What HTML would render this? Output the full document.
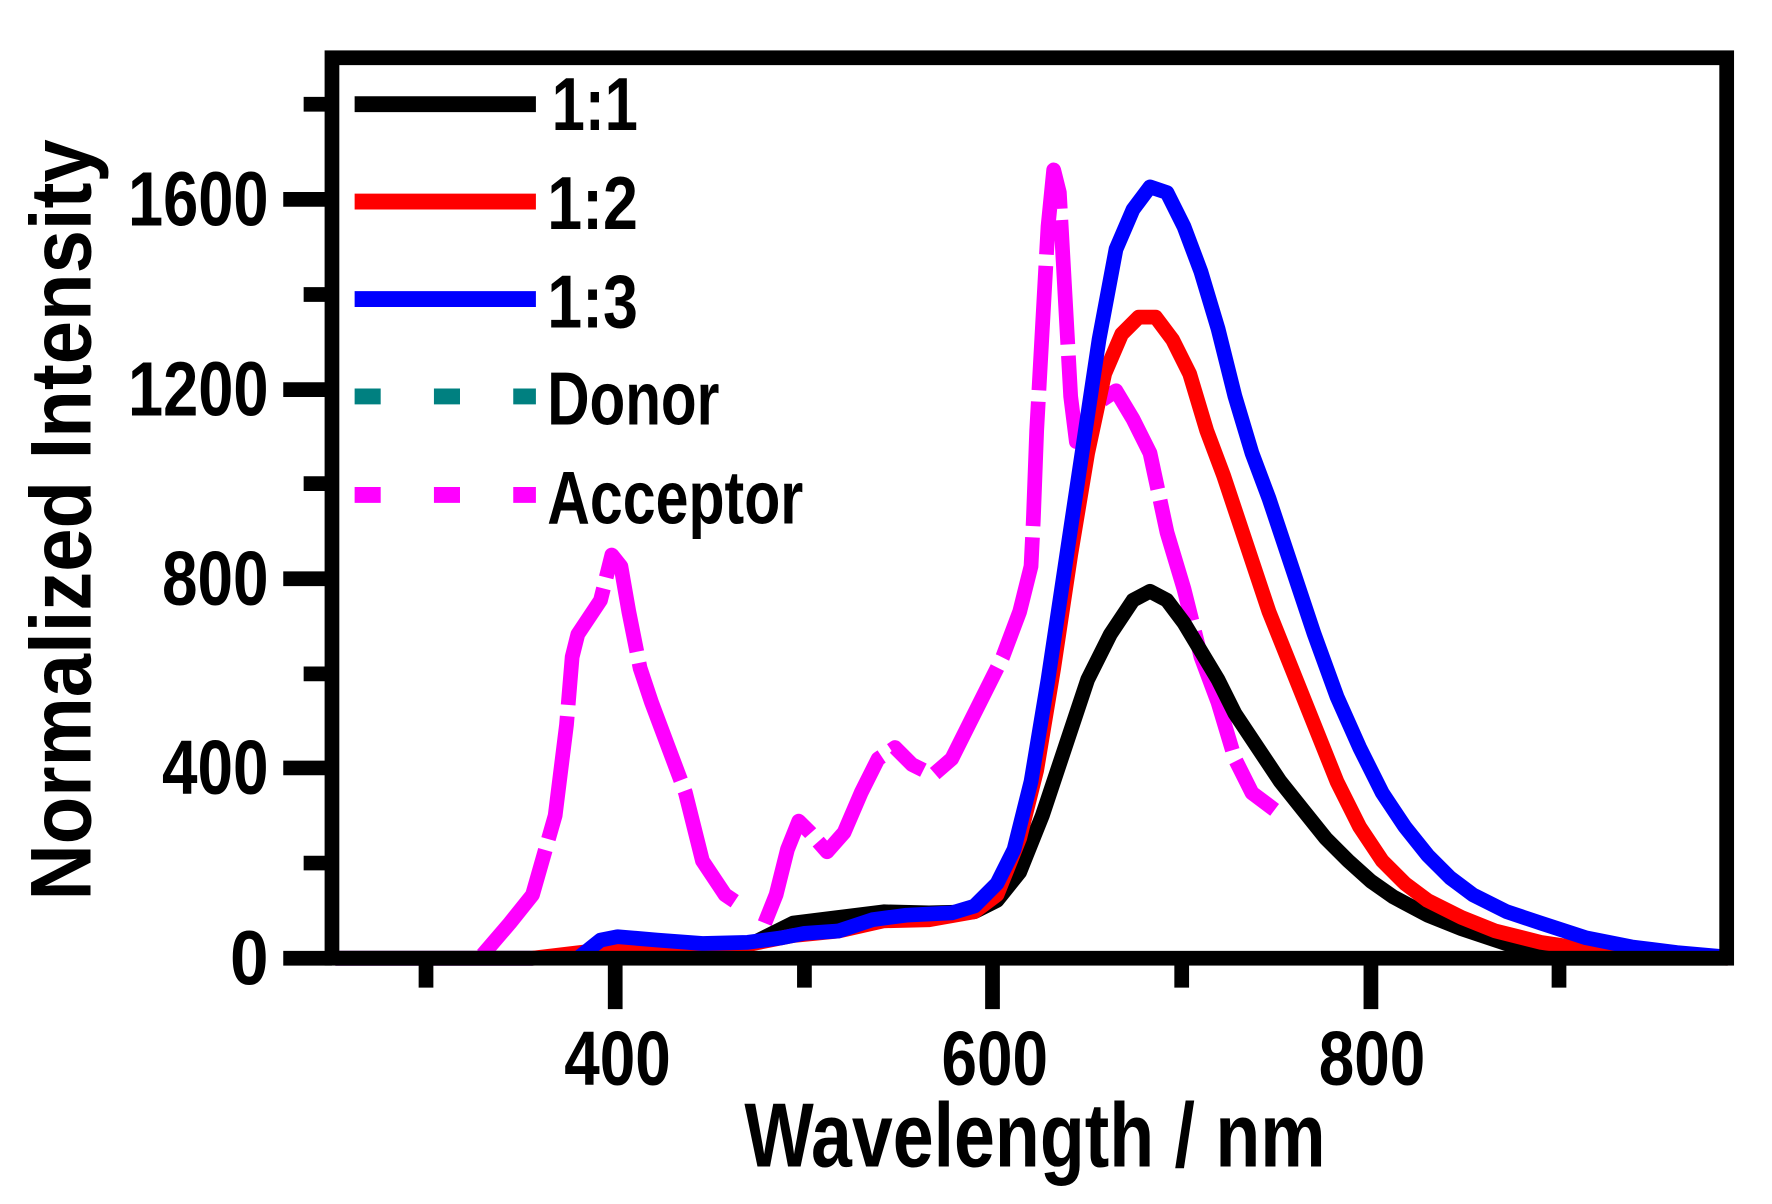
<!DOCTYPE html>
<html><head><meta charset="utf-8"><style>html,body{margin:0;padding:0;background:#fff}svg{display:block}</style></head>
<body>
<svg width="1772" height="1204" viewBox="0 0 1564 1063" preserveAspectRatio="none" xmlns="http://www.w3.org/2000/svg" font-family="Liberation Sans, Arial, sans-serif" font-weight="bold">
<rect width="1564" height="1063" fill="#fff"/>
<g fill="none" stroke-linejoin="round" stroke-linecap="butt" stroke-width="13">
<polyline stroke="#ff00ff" stroke-dasharray="110 10" points="426,843 450,815 470,790 490,720 500,640 505,580 510,560 530,530 540,490 548,500 555,540 565,590 575,620 590,660 605,700 620,760 640,790 655,800"/>
<polyline stroke="#ff00ff" stroke-dasharray="110 10" points="675,815 685,790 695,750 705,725 715,735 730,752 745,735 760,700 775,670 790,660 805,675 815,680"/>
<polyline stroke="#ff00ff" stroke-dasharray="110 10" points="825,683 840,670 855,640 870,610 885,580 900,540 910,500 912,460 915,380 920,290 925,200 930,150 935,170 940,260 945,350 950,390 960,375 970,355 985,345 1000,370 1015,400 1030,470 1045,520 1060,580 1075,620 1090,670 1105,700 1125,715"/>
<polyline stroke="#000" points="296,846 470,846 520,843 560,840 620,838 660,835 700,815 740,810 780,805 820,806 860,805 880,795 900,770 920,720 940,660 960,600 980,560 1000,530 1015,522 1030,530 1045,550 1060,575 1075,600 1090,630 1110,660 1130,690 1150,715 1170,740 1190,760 1210,778 1230,792 1260,808 1290,820 1320,830 1350,840 1380,846 1525,846"/>
<polyline stroke="#ff0000" points="296,846 470,846 520,840 560,835 620,836 660,834 700,826 740,822 780,813 820,812 860,805 880,790 900,740 915,680 930,590 945,490 960,400 975,330 990,295 1005,280 1020,280 1035,300 1050,330 1065,380 1080,420 1100,480 1120,540 1140,590 1160,640 1180,690 1200,730 1220,760 1240,780 1260,795 1290,810 1320,822 1360,832 1400,838 1450,843 1525,846"/>
<polyline stroke="#0000ff" points="296,846 470,846"/>
<polyline stroke="#0000ff" points="510,846 530,830 545,827 580,830 620,833 660,832 690,828 710,824 740,822 770,812 800,808 840,806 860,800 880,780 895,750 910,690 925,600 940,500 955,400 970,300 985,220 1000,185 1015,165 1030,170 1045,200 1060,240 1075,290 1090,350 1105,400 1120,440 1140,500 1160,560 1180,615 1200,660 1220,700 1240,730 1260,755 1280,775 1300,790 1330,805 1360,815 1400,828 1440,836 1480,841 1525,845"/>
<line x1="313" y1="92" x2="473" y2="92" stroke="#000" stroke-width="14"/>
<line x1="313" y1="178" x2="473" y2="178" stroke="#ff0000" stroke-width="14"/>
<line x1="313" y1="264" x2="473" y2="264" stroke="#0000ff" stroke-width="14"/>
<line x1="313" y1="350" x2="473" y2="350" stroke="#008080" stroke-width="14" stroke-dasharray="23 47"/>
<line x1="313" y1="437" x2="473" y2="437" stroke="#ff00ff" stroke-width="14" stroke-dasharray="23 47"/>
</g>
<rect x="293" y="51" width="1231" height="795" fill="none" stroke="#000" stroke-width="13"/>
<g stroke="#000" stroke-width="13">
<line x1="250" y1="846" x2="293" y2="846"/>
<line x1="268" y1="762" x2="293" y2="762"/>
<line x1="250" y1="678" x2="293" y2="678"/>
<line x1="268" y1="595" x2="293" y2="595"/>
<line x1="250" y1="511" x2="293" y2="511"/>
<line x1="268" y1="427" x2="293" y2="427"/>
<line x1="250" y1="344" x2="293" y2="344"/>
<line x1="268" y1="260" x2="293" y2="260"/>
<line x1="250" y1="176" x2="293" y2="176"/>
<line x1="268" y1="92" x2="293" y2="92"/>
<line x1="376" y1="846" x2="376" y2="872"/>
<line x1="543" y1="846" x2="543" y2="891"/>
<line x1="710" y1="846" x2="710" y2="872"/>
<line x1="876" y1="846" x2="876" y2="891"/>
<line x1="1043" y1="846" x2="1043" y2="872"/>
<line x1="1210" y1="846" x2="1210" y2="891"/>
<line x1="1376" y1="846" x2="1376" y2="872"/>
</g>
<g font-size="68" text-anchor="end" fill="#000">
<text x="237" y="869" textLength="34" lengthAdjust="spacingAndGlyphs">0</text>
<text x="237" y="701" textLength="94" lengthAdjust="spacingAndGlyphs">400</text>
<text x="237" y="534" textLength="94" lengthAdjust="spacingAndGlyphs">800</text>
<text x="237" y="367" textLength="124" lengthAdjust="spacingAndGlyphs">1200</text>
<text x="237" y="199" textLength="124" lengthAdjust="spacingAndGlyphs">1600</text>
</g>
<g font-size="68" text-anchor="middle" fill="#000">
<text x="545" y="958" textLength="94" lengthAdjust="spacingAndGlyphs">400</text>
<text x="878" y="958" textLength="94" lengthAdjust="spacingAndGlyphs">600</text>
<text x="1211" y="958" textLength="94" lengthAdjust="spacingAndGlyphs">800</text>
</g>
<text x="657" y="1030" font-size="80" textLength="513" lengthAdjust="spacingAndGlyphs">Wavelength / nm</text>
<text transform="translate(80,795) rotate(-90)" font-size="76" textLength="672" lengthAdjust="spacingAndGlyphs">Normalized Intensity</text>
<g font-size="66" fill="#000">
<text x="487" y="115" textLength="76" lengthAdjust="spacingAndGlyphs">1:1</text>
<text x="483" y="202" textLength="80" lengthAdjust="spacingAndGlyphs">1:2</text>
<text x="483" y="289" textLength="80" lengthAdjust="spacingAndGlyphs">1:3</text>
<text x="483" y="375" textLength="152" lengthAdjust="spacingAndGlyphs">Donor</text>
<text x="483" y="462" textLength="226" lengthAdjust="spacingAndGlyphs">Acceptor</text>
</g>
</svg>
</body></html>
